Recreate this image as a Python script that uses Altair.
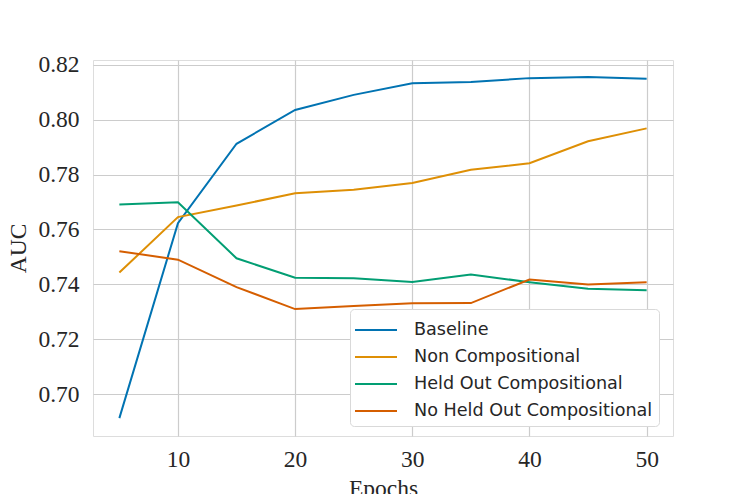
import altair as alt
import pandas as pd

epochs = [5, 10, 15, 20, 25, 30, 35, 40, 45, 50]
series_names = ["Baseline", "Non Compositional", "Held Out Compositional", "No Held Out Compositional"]
baseline = [0.6913, 0.7623, 0.7912, 0.8035, 0.8090, 0.8132, 0.8137, 0.8151, 0.8155, 0.8149]
non_comp = [0.7443, 0.7645, 0.7687, 0.7732, 0.7745, 0.7769, 0.7817, 0.7841, 0.7921, 0.7968]
held_out = [0.7691, 0.7699, 0.7495, 0.7424, 0.7422, 0.7409, 0.7436, 0.7408, 0.7384, 0.7379]
no_held_out = [0.7521, 0.7490, 0.7390, 0.7310, 0.7321, 0.7331, 0.7332, 0.7418, 0.7400, 0.7408]
colors = ["#0173b2", "#de8f05", "#029e73", "#d55e00"]
x_ticks = [10, 20, 30, 40, 50]
y_ticks = [0.70, 0.72, 0.74, 0.76, 0.78, 0.80, 0.82]

rows = []
for name, vals in zip(series_names, [baseline, non_comp, held_out, no_held_out]):
    for e, v in zip(epochs, vals):
        rows.append({"Epochs": e, "AUC": v, "series": name})
df = pd.DataFrame(rows)

serif = "Liberation Serif"
sans = "DejaVu Sans"

chart = alt.Chart(df).mark_line(strokeWidth=2).encode(
    x=alt.X("Epochs:Q",
            scale=alt.Scale(domain=[2.75, 52.25], nice=False, zero=False),
            axis=alt.Axis(values=x_ticks, title="Epochs", format="d",
                          labelFont=serif, labelFontSize=23.5, labelColor="#262626",
                          titleFont=serif, titleFontSize=23.5, titleColor="#262626",
                          titleFontWeight="normal", labelPadding=11, titlePadding=6,
                          tickSize=0, domain=False, grid=True, gridColor="#cccccc",
                          gridWidth=1.2)),
    y=alt.Y("AUC:Q",
            scale=alt.Scale(domain=[0.6848, 0.8217], nice=False, zero=False),
            axis=alt.Axis(values=y_ticks, title="AUC", format=".2f",
                          labelFont=serif, labelFontSize=23.5, labelColor="#262626",
                          titleFont=serif, titleFontSize=23.5, titleColor="#262626",
                          titleFontWeight="normal", labelPadding=14, titlePadding=7,
                          tickSize=0, domain=False, grid=True, gridColor="#cccccc",
                          gridWidth=1.2)),
    color=alt.Color("series:N",
                    scale=alt.Scale(domain=series_names, range=colors),
                    sort=series_names,
                    legend=alt.Legend(title=None, orient="none", legendX=257, legendY=249,
                                      symbolType="M-1.5,0L1.5,0", symbolSize=784,
                                      symbolStrokeWidth=2, symbolOffset=5,
                                      rowPadding=3, labelOffset=23,
                                      labelFont=sans, labelFontSize=17.6, labelColor="#262626",
                                      fillColor="white", strokeColor="#d9d9d9", cornerRadius=4,
                                      padding=6, labelLimit=400)),
).properties(
    width=580, height=376,
    autosize=alt.AutoSizeParams(type="none"),
    padding={"left": 85, "top": 52, "right": 10, "bottom": 58},
).configure_view(
    stroke="#cccccc", strokeWidth=1.3
).configure(background="white")

chart.save("out.html", embed_options={"renderer": "svg", "actions": False})
